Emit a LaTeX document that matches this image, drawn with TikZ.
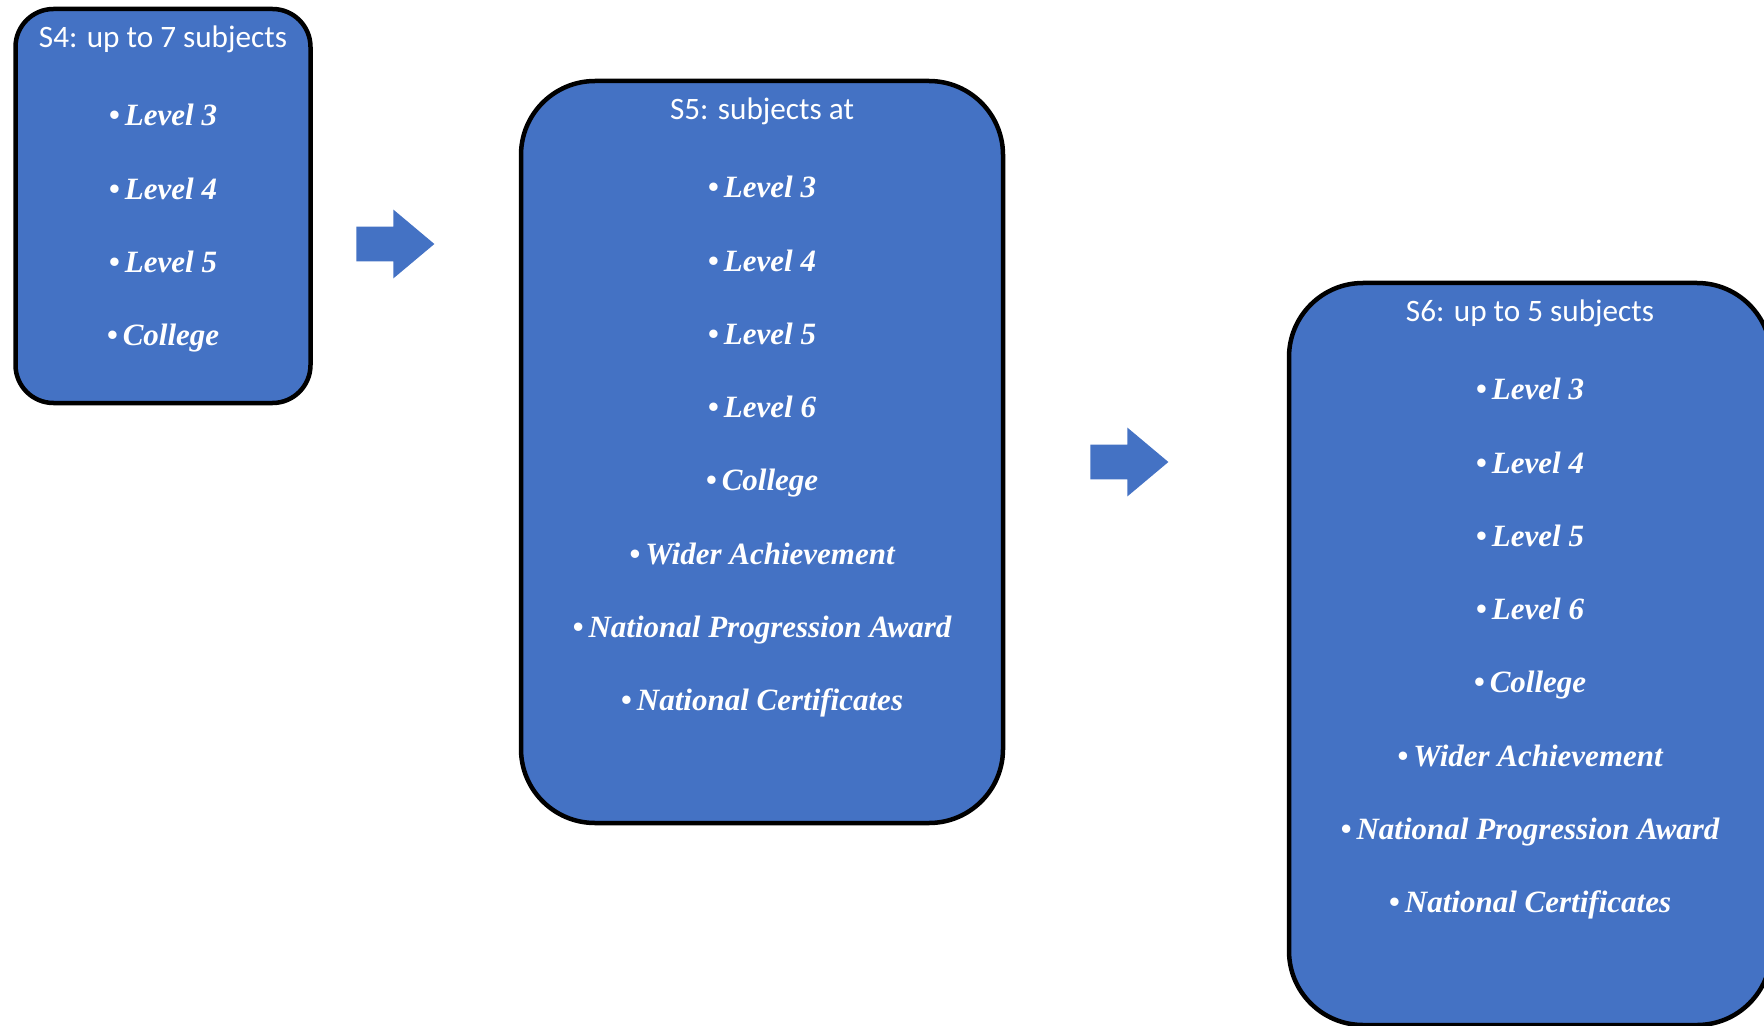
\documentclass[tikz,border=0pt]{standalone}
\usepackage{fontspec}
\setmainfont{Liberation Serif}
\newfontfamily\titlefont{Carlito}
\usepackage{tikz}
\usetikzlibrary{shapes.arrows, positioning}
\definecolor{boxblue}{HTML}{4472C4}
\tikzstyle{stage} = [rectangle, rounded corners=37pt, minimum width=241pt, minimum height=371pt, draw=black, line width=2.25pt, fill=boxblue]
\tikzstyle{smallstage} = [rounded corners=19pt, minimum width=147.5pt, minimum height=197pt]
\tikzstyle{heading} = [anchor=base, inner sep=0pt, text=white, font=\titlefont\fontsize{15.6}{18}\selectfont]
\tikzstyle{entry} = [anchor=base, inner sep=0pt, text=white, font=\bfseries\itshape\fontsize{15.5}{18}\selectfont]
\tikzstyle{blockarrow} = [single arrow, single arrow head extend=8.5pt, single arrow tip angle=80, minimum height=39pt, minimum width=34pt, inner xsep=0pt, inner ysep=8.5pt, draw=none, fill=boxblue]

\begin{document}
\begin{tikzpicture}[x=0.5pt, y=-0.5pt]
		\useasboundingbox (0,0) rectangle (1764,1026);
		\node (s4) [stage, smallstage] at (163,206) {};
		\node (s5) [stage] at (762,452) {};
		\node (s6) [stage] at (1530,654) {};
		\node (arr1) [blockarrow] at (385,244) {};
		\node (arr2) [blockarrow] at (1119,462) {};
		\node (s4t) [heading] at ([yshift=-20.5pt]s4.north) {S4: up to 7 subjects};
		\node (s5t) [heading] at ([yshift=-20.5pt]s5.north) {S5: subjects at};
		\node (s6t) [heading] at ([yshift=-20.5pt]s6.north) {S6: up to 5 subjects};
		\foreach \txt [count=\i from 0] in {Level 3, Level 4, Level 5, College}
			\node (s4i\i) [entry] at ([yshift={-59.5pt-\i*36.65pt}]s4.north) {•\,\txt};
		\foreach \txt [count=\i from 0] in {Level 3, Level 4, Level 5, Level 6, College, Wider Achievement, National Progression Award, National Certificates}
			\node (s5i\i) [entry] at ([yshift={-59.5pt-\i*36.65pt}]s5.north) {•\,\txt};
		\foreach \txt [count=\i from 0] in {Level 3, Level 4, Level 5, Level 6, College, Wider Achievement, National Progression Award, National Certificates}
			\node (s6i\i) [entry] at ([yshift={-59.5pt-\i*36.65pt}]s6.north) {•\,\txt};
		\end{tikzpicture}
\end{document}
